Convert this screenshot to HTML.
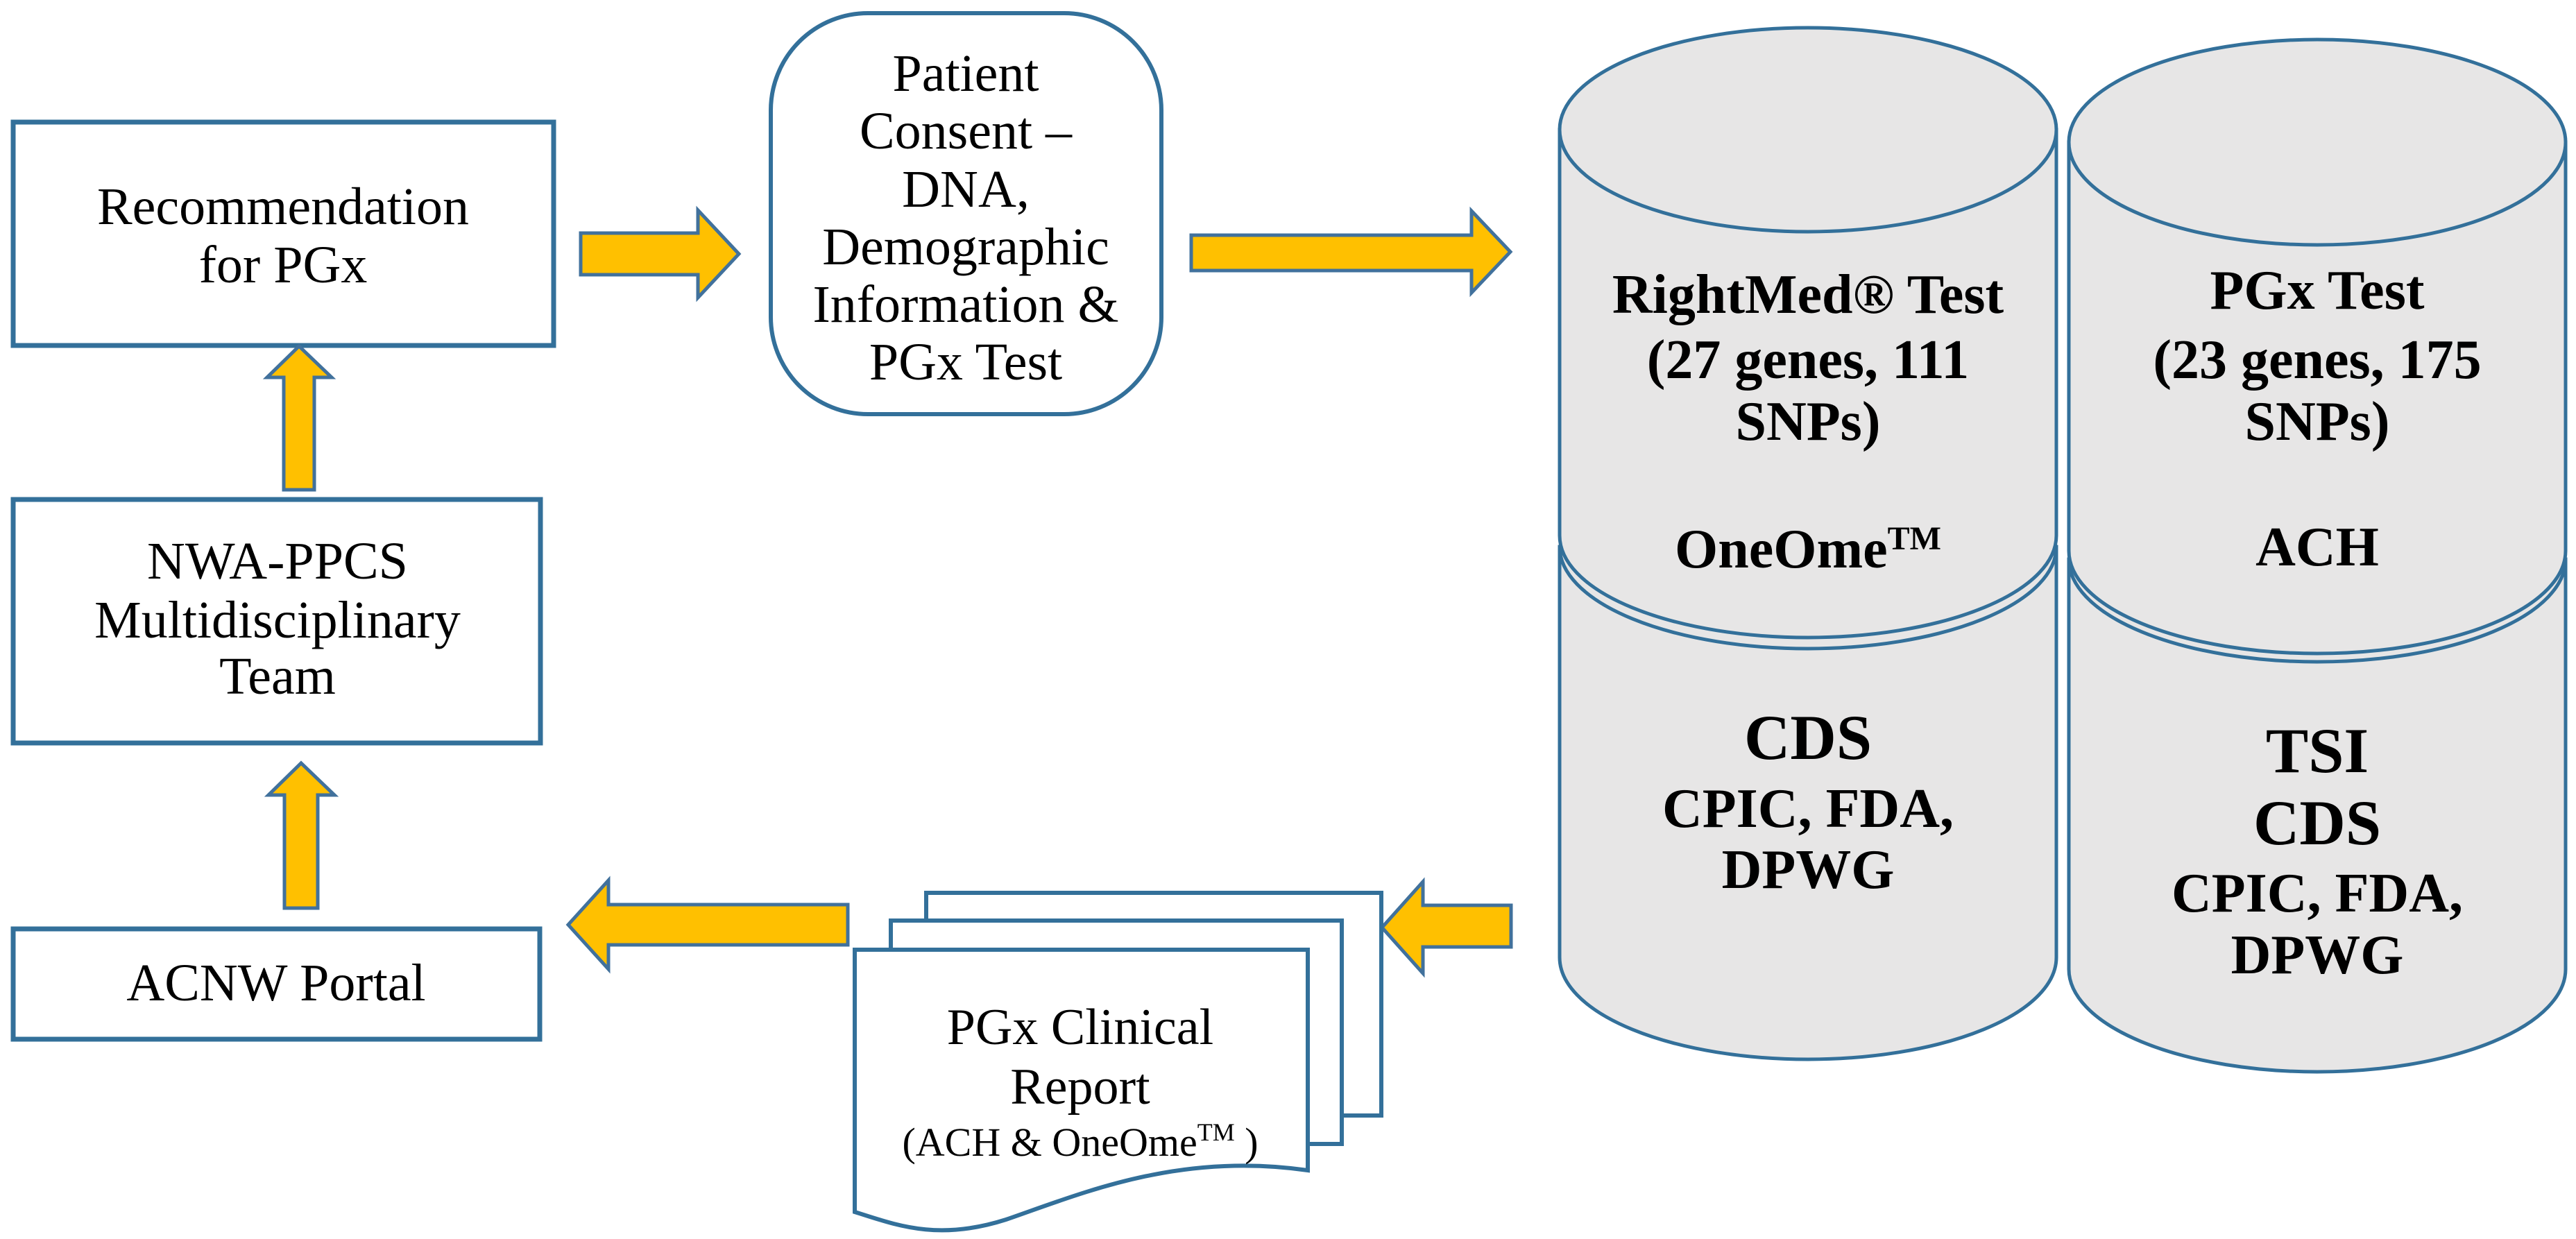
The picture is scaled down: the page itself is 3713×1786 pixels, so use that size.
<!DOCTYPE html>
<html><head><meta charset="utf-8"><style>
html,body{margin:0;padding:0;background:#fff;}
svg{display:block;}
svg text{font-family:"Liberation Serif","DejaVu Serif",serif !important;fill:#000;}
.r{font-size:76px;}
.b{font-size:80px;font-weight:bold;}
</style></head><body>
<svg width="3713" height="1786" viewBox="0 0 3713 1786" xmlns="http://www.w3.org/2000/svg" font-family="Liberation Serif, serif">
<g fill="#fff" stroke="#33709a" stroke-width="7">
<rect x="19" y="176" width="779" height="322"/>
<rect x="19" y="720" width="760" height="351"/>
<rect x="19" y="1339" width="759" height="159"/>
<rect x="1111" y="19" width="563" height="578" rx="140" ry="140" stroke-width="6"/>
</g>
<g fill="#ffc000" stroke="#41719c" stroke-width="5" stroke-linejoin="miter">
<polygon points="837,336 1006,336 1006,303 1065,366 1006,429 1006,396 837,396"/>
<polygon points="1717,339 2121,339 2121,304 2177,363 2121,422 2121,390 1717,390"/>
<polygon points="409,706 409,544 385,544 431,499 478,544 453,544 453,706"/>
<polygon points="410,1309 410,1146 387,1146 434,1100 482,1146 458,1146 458,1309"/>
<polygon points="1222,1304 877,1304 877,1269 819,1333 877,1397 877,1362 1222,1362"/>
<polygon points="2178,1305 2051,1305 2051,1271 1992,1337 2051,1403 2051,1365 2178,1365"/>
</g>
<g fill="#e7e6e6" stroke="#33709a" stroke-width="5">
<path d="M2248,788 L2248,1380 A358,147 0 0 0 2964,1380 L2964,788 Z"/>
<path d="M2248,788 A358,147 0 0 0 2964,788"/>
<path d="M2248,187 L2248,772 A358,147 0 0 0 2964,772 L2964,187 Z"/>
<ellipse cx="2606" cy="187" rx="358" ry="147"/>
<path d="M2982,806 L2982,1397 A358,148 0 0 0 3698,1397 L3698,806 Z"/>
<path d="M2982,806 A358,148 0 0 0 3698,806"/>
<path d="M2982,205 L2982,794 A358,148 0 0 0 3698,794 L3698,205 Z"/>
<ellipse cx="3340" cy="205" rx="358" ry="148"/>
</g>
<g fill="#fff" stroke="#33709a" stroke-width="6">
<rect x="1335" y="1287" width="656" height="321"/>
<rect x="1284" y="1327" width="650" height="322"/>
<path d="M1232,1369 L1885,1369 L1885,1687 C1700,1660 1560,1720 1450,1758 C1350,1790 1290,1765 1232,1747 Z"/>
</g>
<g text-anchor="middle" font-family="Liberation Serif, serif">
<text class="r" x="408" y="323">Recommendation</text>
<text class="r" x="408" y="407">for PGx</text>
<text class="r" x="1392" y="131">Patient</text>
<text class="r" x="1392" y="214">Consent –</text>
<text class="r" x="1392" y="298">DNA,</text>
<text class="r" x="1392" y="381">Demographic</text>
<text class="r" x="1392" y="464">Information &amp;</text>
<text class="r" x="1392" y="547">PGx Test</text>
<text class="r" x="400" y="834">NWA-PPCS</text>
<text class="r" x="400" y="919">Multidisciplinary</text>
<text class="r" x="400" y="1000">Team</text>
<text class="r" x="398" y="1442">ACNW Portal</text>
<text class="r" x="1557" y="1505" style="font-size:74px">PGx Clinical</text>
<text class="r" x="1557" y="1591" style="font-size:74px">Report</text>
<text x="1557" y="1666" style="font-size:58px">(ACH &amp; OneOme<tspan font-size="36" dy="-22">TM</tspan><tspan dy="22"> )</tspan></text>
<text class="b" x="2606" y="451">RightMed® Test</text>
<text class="b" x="2606" y="545">(27 genes, 111</text>
<text class="b" x="2606" y="634">SNPs)</text>
<text class="b" x="2606" y="818">OneOme<tspan font-size="48" dy="-26">TM</tspan></text>
<text class="b" x="3340" y="445">PGx Test</text>
<text class="b" x="3340" y="545">(23 genes, 175</text>
<text class="b" x="3340" y="634">SNPs)</text>
<text class="b" x="3340" y="815">ACH</text>
<text class="b" x="2606" y="1094" style="font-size:92px">CDS</text>
<text class="b" x="2606" y="1192">CPIC, FDA,</text>
<text class="b" x="2606" y="1280">DPWG</text>
<text class="b" x="3340" y="1113" style="font-size:92px">TSI</text>
<text class="b" x="3340" y="1217" style="font-size:92px">CDS</text>
<text class="b" x="3340" y="1314">CPIC, FDA,</text>
<text class="b" x="3340" y="1403">DPWG</text>
</g>
</svg>
</body></html>
